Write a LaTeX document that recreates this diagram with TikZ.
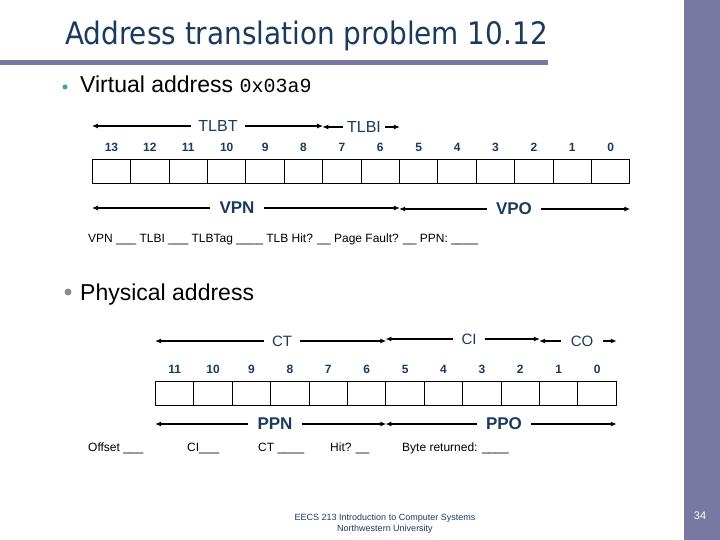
\documentclass[tikz,border=0pt]{standalone}
\usepackage{fontspec}
\setmainfont{Liberation Sans}
\setmonofont{Liberation Mono}
\newfontfamily\titlefont{DejaVu Sans Condensed}
\usetikzlibrary{arrows.meta,positioning}
\usepackage{xcolor}
\definecolor{slate}{HTML}{7779A2}
\definecolor{navy}{HTML}{1A3A5E}
\definecolor{dotteal}{HTML}{3A9FB0}
\definecolor{dotgray}{HTML}{8C8C8C}
\tikzset{
  >={Latex[length=6pt,width=5pt]},
  every node/.style={inner sep=0pt},
  cell/.style={draw,line width=0.9pt,minimum width=38.4pt,minimum height=24pt},
  bitnum/.style={font=\fontsize{12}{14}\selectfont\bfseries,text=navy},
  field/.style={font=\fontsize{16}{18}\selectfont,text=navy,inner xsep=7pt},
  cfield/.style={font=\fontsize{15}{17}\selectfont,text=navy,inner xsep=8pt},
  bigfield/.style={font=\fontsize{17}{19}\selectfont\bfseries,text=navy,inner xsep=9pt},
  span/.style={->,line width=1.4pt},
  blank/.style={font=\fontsize{12}{14}\selectfont,anchor=base west},
  item/.style={font=\fontsize{23}{26}\selectfont,anchor=base west},
}

\begin{document}
\begin{tikzpicture}[x=1pt,y=-1pt]
\useasboundingbox (0,0) rectangle (720,540);

% slide frame
\fill[slate] (684,0) rectangle (720,540);
\fill[slate] (0,60) rectangle (548,65);
\node[anchor=base west,text=navy,font=\titlefont\fontsize{31}{36}\selectfont] (title) at (65,45) {Address translation problem 10.12};
\node[text=white,font=\fontsize{11}{13}\selectfont] (pageno) at (700,516) {34};
\node[align=center,font=\fontsize{9}{11}\selectfont,text=navy] (footer) at (385,524) {EECS 213 Introduction to Computer Systems\\Northwestern University};

% virtual address
\node[circle,fill=dotteal,minimum size=5pt] (vdot) at (65,87) {};
\node[item] (vaddr) at (80,93) {Virtual address \fontsize{20}{24}\selectfont\texttt{0x03a9}};

\foreach \i [evaluate=\i as \x using 111.5+(13-\i)*38.4] in {0,...,13} {
  \node[cell] (v\i) at (\x,171.3) {};
  \node[bitnum] (vn\i) at (\x,147) {\i};
}

\node[field] (tlbt) at (218,126) {TLBT};
\node[field,inner xsep=4pt] (tlbi) at (364,127) {TLBI};
\draw[span] (tlbt) -- (tlbt -| v13.west);
\draw[span] (tlbt) -- (tlbt -| v8.east);
\draw[span] (tlbi) -- (tlbi -| v7.west);
\draw[span] (tlbi) -- (tlbi -| v6.east);

\node[bigfield] (vpn) at (237,208) {VPN};
\node[bigfield] (vpo) at (514,209) {VPO};
\draw[span] (vpn) -- (vpn -| v13.west);
\draw[span] (vpn) -- (vpn -| v6.east);
\draw[span] (vpo) -- (vpo -| v5.west);
\draw[span] (vpo) -- (vpo -| v0.east);

\node[blank] (vq) at (88,242) {VPN \_\_\_ TLBI \_\_\_ TLBTag \_\_\_\_ TLB Hit? \_\_ Page Fault? \_\_ PPN: \_\_\_\_};

% physical address
\node[circle,fill=dotgray,minimum size=7pt] (pdot) at (68,292) {};
\node[item] (paddr) at (80,300) {Physical address};

\foreach \i [evaluate=\i as \x using 174.7+(11-\i)*38.4] in {0,...,11} {
  \node[cell] (p\i) at (\x,393) {};
  \node[bitnum] (pn\i) at (\x,369) {\i};
}

\node[cfield] (ct) at (282,341) {CT};
\node[cfield] (ci) at (469,339) {CI};
\node[cfield,inner xsep=10pt] (co) at (582,341) {CO};
\draw[span] (ct) -- (ct -| p11.west);
\draw[span] (ct) -- (ct -| p6.east);
\draw[span] (ci) -- (ci -| p5.west);
\draw[span] (ci) -- (ci -| p2.east);
\draw[span] (co) -- (co -| p1.west);
\draw[span] (co) -- (co -| p0.east);

\node[bigfield] (ppn) at (275,424) {PPN};
\node[bigfield] (ppo) at (504,424) {PPO};
\draw[span] (ppn) -- (ppn -| p11.west);
\draw[span] (ppn) -- (ppn -| p6.east);
\draw[span] (ppo) -- (ppo -| p5.west);
\draw[span] (ppo) -- (ppo -| p0.east);

\node[blank] (q1) at (88,451) {Offset \_\_\_};
\node[blank] (q2) at (187,451) {CI\_\_\_};
\node[blank] (q3) at (258,451) {CT \_\_\_\_};
\node[blank] (q4) at (330,451) {Hit? \_\_};
\node[blank] (q5) at (402,451) {Byte returned: \_\_\_\_};

\end{tikzpicture}
\end{document}
